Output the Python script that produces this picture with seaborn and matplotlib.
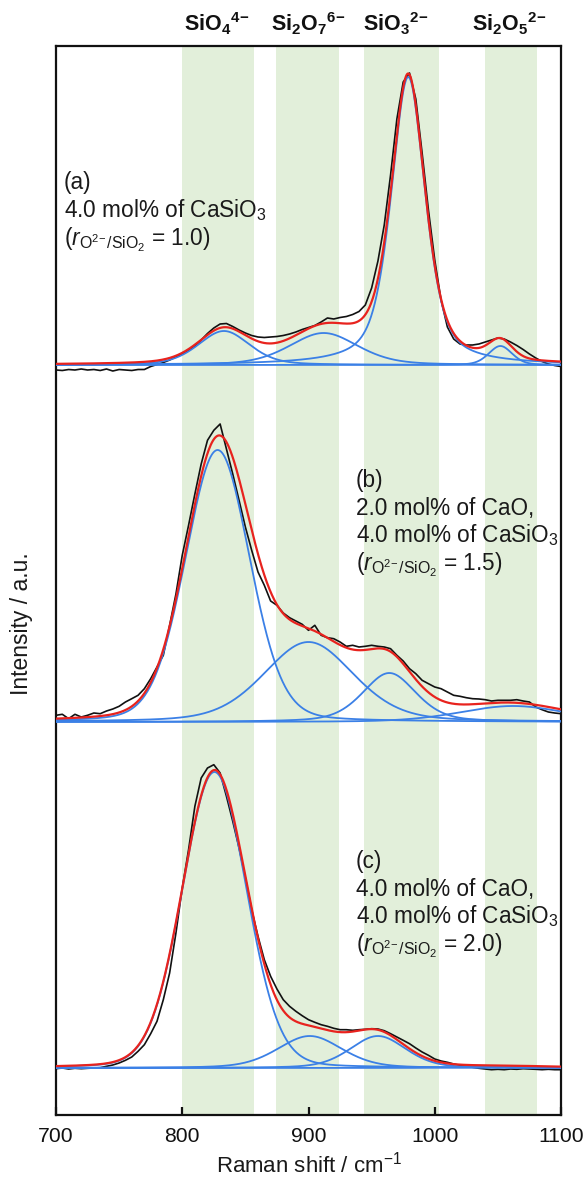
import numpy as np
import pandas as pd
import matplotlib
matplotlib.use("Agg")
import matplotlib.pyplot as plt
import seaborn as sns

# ---------------- data ----------------
wavenumber = np.arange(700, 1101, 5)

# measured spectra (intensity above each trace's own baseline, a.u.)
spec_a = [-5, -5.5, -4.5, -5, -4, -5, -4.5, -5.5, -4, -6,
          -4.5, -5, -5.5, -4.5, -4.5, -1.5, 0.5, 2.5, 5, 8,
          11.5, 14.5, 19, 25, 31.5, 37, 41, 41.5, 38.5, 35,
          32, 29.5, 28, 27.5, 28, 28.5, 29.5, 31, 33, 35.5,
          37.5, 39.5, 43, 47, 46, 47.5, 48.5, 50.5, 53.5, 60,
          77, 104, 140, 190, 246, 283, 292, 266, 212, 155,
          105, 65, 38, 26, 21, 20, 20, 21, 23, 25,
          27, 26, 23, 19.5, 15.5, 11, 7, 3.5, 1, -0.5,
          -1.5]
spec_b = [6.7, 7.7, 3.3, 7.7, 5, 6.7, 9, 8.3, 11, 13,
          15.7, 20, 23.3, 26.7, 33.3, 43.3, 55, 66.7, 96.7, 128,
          166.7, 196.7, 228, 258, 281.7, 291.7, 298, 273, 248, 221.7,
          195, 171.7, 150, 136.7, 121, 116.7, 109, 104.3, 101, 97.7,
          91.7, 96.7, 86.7, 84.3, 83.3, 80, 75.7, 76.7, 75, 75.7,
          76.7, 75.7, 75, 73.3, 66.7, 61, 53.3, 48.3, 41.7, 38.3,
          35, 33.3, 30, 26.7, 25.7, 24.3, 23.3, 23, 22.3, 21,
          21.7, 21.7, 21.7, 22.3, 21, 20, 15, 12.3, 10, 9,
          8.3]
spec_c = [-0.7, 0, -1, -0.3, -0.7, -0.3, 0, 0.3, 1.7, 3,
          5, 7.7, 11, 16.7, 23.3, 34.3, 46.7, 68.3, 95, 135,
          180, 218.3, 261.7, 290, 300, 303.3, 295, 271.7, 246.7, 220,
          190, 158.3, 131.7, 108.3, 91.7, 79, 68.3, 61.7, 56.7, 52.3,
          48.3, 45.7, 43.3, 41.7, 39.7, 38.3, 38.3, 37.7, 38.3, 38.7,
          39.3, 39, 37.3, 34.3, 31, 27.7, 24.3, 20, 16, 12.7,
          9, 7, 5.7, 4, 2.7, 1.7, 0.7, -0.3, -1, -1.7,
          -1.3, -1.7, -1, -1.3, -0.7, -1, -1.3, -1.7, -1.3, -1.7,
          -1.7]

# fitted components: pseudo-Voigt parameters (SiO4, Si2O7, SiO3, Si2O5)
a_center = [833, 912, 979, 1052]
a_height = [34, 32, 288, 19]
a_hwhm = [24, 32, 16, 11]
a_eta = [0.35, 0.35, 0.55, 0.3]

b_center = [828, 900, 964, 1062]
b_height = [272, 80, 49, 16]
b_hwhm = [30, 42, 25, 50]
b_eta = [0.15, 0.3, 0.4, 0.3]

c_center = [825.5, 901, 955, 1060]
c_height = [296, 32, 32, 1.0]
c_hwhm = [30, 30, 26, 40]
c_eta = [0.1, 0.3, 0.3, 0.3]

species_labels = [r"$\mathbf{SiO_4{}^{4\!-}}$", r"$\mathbf{Si_2O_7{}^{6\!-}}$",
                  r"$\mathbf{SiO_3{}^{2\!-}}$", r"$\mathbf{Si_2O_5{}^{2\!-}}$"]
species_x = [827, 900, 969, 1059]
band_lo = [800, 874, 944, 1040]
band_hi = [857, 924, 1003, 1081]

r_sub = r"$\mathit{r}_{\mathrm{O^{2\!-}/SiO_2}}$"
panel_text = {
    "a": ["(a)", "4.0 mol% of CaSiO$_3$", "(" + r_sub + " = 1.0)"],
    "b": ["(b)", "2.0 mol% of CaO,", "4.0 mol% of CaSiO$_3$",
          "(" + r_sub + " = 1.5)"],
    "c": ["(c)", "4.0 mol% of CaO,", "4.0 mol% of CaSiO$_3$",
          "(" + r_sub + " = 2.0)"],
}

# ---------------- style ----------------
sns.set_theme(style="white")
plt.rcParams["font.family"] = ["Liberation Sans", "DejaVu Sans"]
plt.rcParams["mathtext.fontset"] = "custom"
plt.rcParams["mathtext.rm"] = "Liberation Sans"
plt.rcParams["mathtext.it"] = "Liberation Sans:italic"
plt.rcParams["mathtext.bf"] = "Liberation Sans:bold"

BLACK = "#111111"
RED = "#e8231e"
BLUE = "#3b80e6"
GREEN = "#e2efda"
TXT = "#1a1a1a"

W, H = 587, 1181
fig = plt.figure(figsize=(W / 100, H / 100), dpi=100)
ax_l, ax_r, ax_t, ax_b = 56, 561, 46, 1115
ax = fig.add_axes([ax_l / W, 1 - ax_b / H, (ax_r - ax_l) / W, (ax_b - ax_t) / H])

for lo, hi in zip(band_lo, band_hi):
    ax.axvspan(lo, hi, color=GREEN, lw=0, zorder=0)


def pvoigt(x, c, h, w, eta):
    u = ((x - c) / w) ** 2
    return h * (eta / (1 + u) + (1 - eta) * np.exp(-np.log(2) * u))


xfit = np.linspace(700, 1100, 801)
panels = [
    ("a", spec_a, a_center, a_height, a_hwhm, a_eta, 750),
    ("b", spec_b, b_center, b_height, b_hwhm, b_eta, 393),
    ("c", spec_c, c_center, c_height, c_hwhm, c_eta, 47),
]

for key, spec, cen, hei, hw, eta, off in panels:
    df = pd.DataFrame({"x": wavenumber, "y": np.asarray(spec, float) + off})
    sns.lineplot(data=df, x="x", y="y", color=BLACK, lw=1.2, ax=ax,
                 estimator=None, sort=False, zorder=3)
    total = np.zeros_like(xfit)
    for c, h, w, e in zip(cen, hei, hw, eta):
        comp = pvoigt(xfit, c, h, w, e)
        total += comp
        sns.lineplot(x=xfit, y=comp + off, color=BLUE, lw=1.3, ax=ax,
                     estimator=None, sort=False, zorder=4)
    sns.lineplot(x=xfit, y=total + off, color=RED, lw=1.6, ax=ax,
                 estimator=None, sort=False, zorder=5)

# panel annotations (x in data, y = baseline px from axes bottom)
text_pos = {
    "a": (706, [189, 217, 245]),
    "b": (937.5, [487, 515, 542, 570]),
    "c": (937.5, [868, 896, 923, 951]),
}
for key, lines in panel_text.items():
    x0, ys = text_pos[key]
    for s, ypx in zip(lines, ys):
        ax.text(x0, ax_b - ypx, s, fontsize=16.3, color=TXT,
                ha="left", va="baseline", zorder=6)

for s, x in zip(species_labels, species_x):
    ax.text(x, (ax_b - 31), s, fontsize=15.5, ha="center", va="baseline",
            color="#111111", clip_on=False)

ax.set_xlim(700, 1100)
ax.set_ylim(0, ax_b - ax_t)
ax.set_xticks([700, 800, 900, 1000, 1100])
ax.set_yticks([])
ax.tick_params(axis="x", direction="in", length=6, width=1.6, pad=9,
               labelsize=15.2, colors="#111111", bottom=True)
for sp in ax.spines.values():
    sp.set_visible(True)
    sp.set_color("#111111")
    sp.set_linewidth(1.6)

ax.set_xlabel("Raman shift / cm$^{-1}$", fontsize=16, labelpad=4, color=TXT)
ax.set_ylabel("Intensity / a.u.", fontsize=16.5, color=TXT)
ax.yaxis.set_label_coords((33 - ax_l) / (ax_r - ax_l), (ax_b - 624) / (ax_b - ax_t))

fig.savefig("out.png", dpi=100)
